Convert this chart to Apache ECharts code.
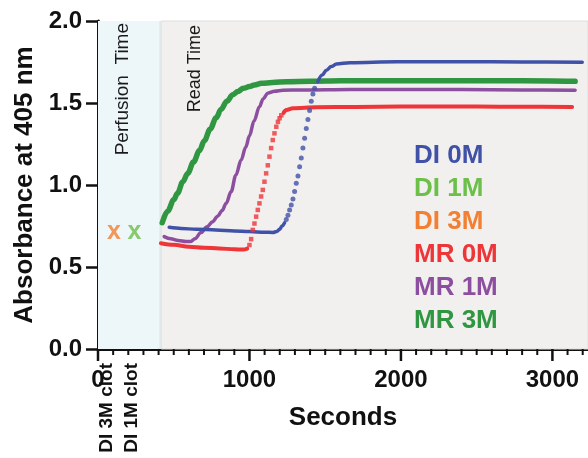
<!DOCTYPE html>
<html><head><meta charset="utf-8">
<script src="https://cdn.jsdelivr.net/npm/echarts@6/dist/echarts.min.js"></script>
<style>html,body{margin:0;padding:0;background:#fff}#c{width:588px;height:458px}</style>
</head><body><div id="c"></div>
<script>
// ---- data ----
const legendNames = ['DI 0M', 'DI 1M', 'DI 3M', 'MR 0M', 'MR 1M', 'MR 3M'];
const legendColors = ['#4051a8', '#6cbf48', '#f37f32', '#ee3538', '#8c4f9f', '#2f9641'];

// DI 0M (blue)
const di0Time = [470, 550, 650, 779, 900, 1000, 1100, 1155, 1180, 1199, 1215, 1232,
  1243, 1254, 1265, 1276, 1287, 1298, 1309, 1320, 1331, 1342, 1353, 1364, 1375, 1386, 1397, 1408, 1419, 1430,
  1452, 1480, 1508, 1540, 1574, 1662, 1971, 2400, 2800, 3197];
const di0Abs = [0.742, 0.735, 0.730, 0.726, 0.720, 0.716, 0.712, 0.711, 0.716, 0.730, 0.750, 0.770,
  0.790, 0.815, 0.848, 0.878, 0.915, 0.960, 1.010, 1.055, 1.112, 1.165, 1.225, 1.285, 1.345, 1.400, 1.455, 1.510, 1.555, 1.590,
  1.630, 1.670, 1.700, 1.722, 1.738, 1.746, 1.752, 1.752, 1.750, 1.748];
const di0DotRange = [1240, 1440];

// MR 0M (red)
const mr0Time = [415, 500, 600, 700, 800, 900, 960, 985,
  1000, 1011, 1022, 1033, 1044, 1055, 1066, 1077, 1088, 1099, 1110, 1121, 1132, 1143, 1154, 1165, 1177, 1188, 1199, 1210,
  1225, 1243, 1287, 1442, 1700, 2000, 2500, 2800, 3130];
const mr0Abs = [0.645, 0.635, 0.624, 0.618, 0.613, 0.608, 0.606, 0.612,
  0.634, 0.670, 0.726, 0.765, 0.807, 0.848, 0.888, 0.930, 0.970, 1.020, 1.071, 1.120, 1.173, 1.225, 1.274, 1.315, 1.355, 1.385, 1.407, 1.425,
  1.440, 1.457, 1.468, 1.474, 1.476, 1.478, 1.478, 1.477, 1.476];
const mr0DotRange = [990, 1220];

// MR 1M (purple)
const mr1Time = [437, 480, 530, 580, 610, 640, 680, 720, 757, 790, 820, 846, 879, 910, 945, 975,
  1000, 1030, 1066, 1090, 1121, 1166, 1221, 1350, 1662, 2000, 2400, 2800, 3150];
const mr1Abs = [0.685, 0.672, 0.662, 0.656, 0.655, 0.672, 0.710, 0.745, 0.776, 0.810, 0.845, 0.888, 0.960, 1.060, 1.152, 1.230,
  1.300, 1.390, 1.477, 1.525, 1.560, 1.572, 1.578, 1.580, 1.583, 1.583, 1.582, 1.580, 1.578];

// MR 3M (dark green)
const mr3Time = [424, 460, 500, 525, 560, 592, 630, 670, 702, 740, 780, 812, 850, 890, 923, 960,
  1000, 1033, 1080, 1152, 1250, 1400, 1600, 1900, 2200, 2500, 2800, 3150];
const mr3Abs = [0.770, 0.840, 0.910, 0.950, 1.020, 1.070, 1.140, 1.210, 1.270, 1.340, 1.410, 1.460, 1.510, 1.550, 1.570, 1.590,
  1.600, 1.610, 1.620, 1.625, 1.630, 1.632, 1.635, 1.635, 1.635, 1.635, 1.635, 1.632];

// clot markers (DI 3M, DI 1M)
const clotNames = ['DI 3M', 'DI 1M'];
const clotTime = [105, 240];
const clotAbs = [0.713, 0.713];
const clotLabelTime = [60, 225];
const clotLabels = ['DI 3M clot', 'DI 1M clot'];

const xMax = 3235;
const xMajorStep = 1000;
const xMinorStep = 100;
const perfusionRange = [0, 417];
const readRange = [417, 3235];

// ---- build ----
const FONT = '"Liberation Sans", Arial, Helvetica, sans-serif';
function colorOf(name) { return legendColors[legendNames.indexOf(name)]; }

function split(times, vals, range) {
  const before = [], dots = [], after = [];
  times.forEach((t, i) => {
    const p = [t, vals[i]];
    if (range && t > range[0] && t < range[1]) dots.push(p);
    else if (range && t >= range[1]) after.push(p);
    else before.push(p);
  });
  let line = before;
  if (after.length) line = before.concat([[ (range[0] + range[1]) / 2, '-' ]], after);
  return { line, dots };
}

function curve(name, times, vals, range, width, dotSymbol, dotSize) {
  const parts = split(times, vals, range);
  const out = [{
    name, type: 'line', data: parts.line, smooth: 0.35, smoothMonotone: 'x',
    showSymbol: false, connectNulls: false,
    lineStyle: { color: colorOf(name), width: width, cap: 'round', join: 'round' },
    itemStyle: { color: colorOf(name) }, z: 3
  }];
  if (parts.dots.length) {
    out.push({
      name, type: 'scatter', data: parts.dots, symbol: dotSymbol, symbolSize: dotSize,
      itemStyle: { color: colorOf(name) }, z: 3
    });
  }
  return out;
}

const axisBlack = '#111';
const series = [];
series.push({
  type: 'scatter', data: [], clip: false, silent: true, z: 1,
  markArea: {
    silent: true,
    data: [
      [{ xAxis: perfusionRange[0], yAxis: 0, itemStyle: { color: '#edf6f8' } }, { xAxis: perfusionRange[1] - 15, yAxis: 2.024 }],
      [{ xAxis: perfusionRange[1] - 15, yAxis: 0, itemStyle: { color: '#e1eff1' } }, { xAxis: perfusionRange[1], yAxis: 2.024 }],
      [{ xAxis: readRange[0], yAxis: 0, itemStyle: { color: '#f2f0ee', borderColor: '#e0dedc', borderWidth: 1 } }, { xAxis: readRange[1], yAxis: 2.04 }]
    ]
  }
});
series.push(...curve('MR 0M', mr0Time, mr0Abs, mr0DotRange, 4, 'rect', 4.5));
series.push(...curve('MR 1M', mr1Time, mr1Abs, null, 3.5, 'circle', 4));
series.push(...curve('MR 3M', mr3Time, mr3Abs, null, 5.5, 'circle', 5));
series.push(...curve('DI 0M', di0Time, di0Abs, di0DotRange, 3.5, 'circle', 5));
clotNames.forEach((n, i) => {
  series.push({
    name: n, type: 'scatter', data: [[clotTime[i], clotAbs[i]]],
    symbol: 'circle', symbolSize: 2, itemStyle: { color: 'rgba(0,0,0,0)' }, z: 4,
    label: { show: true, position: 'inside', formatter: 'x', color: colorOf(n), fontSize: 25, fontWeight: 'bold',
      fontFamily: FONT, textBorderWidth: 0 }
  });
});

const option = {
  backgroundColor: '#fff',
  animation: false,
  textStyle: { fontFamily: FONT },
  grid: { left: 98, right: 0, top: 21, bottom: 109 },
  legend: {
    orient: 'vertical', left: 409, top: 143, padding: 0,
    itemWidth: 0, itemHeight: 0, itemGap: 7, icon: 'rect', selectedMode: false,
    data: legendNames.map((n, i) => ({ name: n, itemStyle: { opacity: 0 }, textStyle: { color: legendColors[i] } })),
    textStyle: { fontSize: 26, fontWeight: 'bold', fontFamily: FONT, lineHeight: 26, padding: 0 }
  },
  xAxis: {
    type: 'value', min: 0, max: xMax, interval: xMajorStep,
    name: 'Seconds', nameLocation: 'middle', nameGap: 56,
    nameTextStyle: { fontSize: 26, fontWeight: 'bold', color: axisBlack, fontFamily: FONT },
    axisLine: { show: true, lineStyle: { color: axisBlack, width: 3 } },
    axisTick: { show: false },
    splitLine: { show: false },
    axisLabel: { show: true, showMaxLabel: false, fontSize: 24, fontWeight: 'bold', color: axisBlack, margin: 19,
      fontFamily: FONT, formatter: v => (v % xMajorStep === 0 ? String(v) : '') }
  },
  yAxis: {
    type: 'value', min: 0, max: 2, interval: 0.5,
    name: 'Absorbance at 405 nm', nameLocation: 'middle', nameGap: 60,
    nameTextStyle: { fontSize: 26, fontWeight: 'bold', color: axisBlack, fontFamily: FONT },
    axisLine: { show: true, lineStyle: { color: axisBlack, width: 3 } },
    axisTick: { show: true, length: 12, lineStyle: { color: axisBlack, width: 2.5 } },
    splitLine: { show: false },
    axisLabel: { fontSize: 24, fontWeight: 'bold', color: axisBlack, margin: 16, fontFamily: FONT, formatter: v => v.toFixed(1) }
  },
  series
};
const chart = echarts.init(document.getElementById('c'));
chart.setOption(option);

// annotation texts and x-axis ticks placed through the chart's own scales
const xPx = v => chart.convertToPixel({ xAxisIndex: 0 }, v);
const yTop = chart.convertToPixel({ yAxisIndex: 0 }, 2.0);
const yZero = chart.convertToPixel({ yAxisIndex: 0 }, 0);
const graphics = [
  { type: 'text', x: xPx(165), y: yTop + 2, rotation: Math.PI / 2, z: 10,
    style: { text: 'Perfusion  Time', font: '19px ' + FONT, fill: '#1a1a1a', textAlign: 'right', textVerticalAlign: 'middle' } },
  { type: 'text', x: xPx(640), y: yTop + 4, rotation: Math.PI / 2, z: 10,
    style: { text: 'Read Time', font: '18px ' + FONT, fill: '#1a1a1a', textAlign: 'right', textVerticalAlign: 'middle' } }
];
clotLabels.forEach((txt, i) => {
  graphics.push({ type: 'text', x: xPx(clotLabelTime[i]), y: yZero + 14, rotation: Math.PI / 2, z: 10,
    style: { text: txt, font: 'bold 19px ' + FONT, fill: axisBlack, textAlign: 'right', textVerticalAlign: 'middle' } });
});
for (let t = 0; t <= xMax; t += xMinorStep) {
  const major = t % xMajorStep === 0;
  const px = xPx(t);
  graphics.push({ type: 'line', z: 100, silent: true,
    shape: { x1: px, y1: yZero, x2: px, y2: yZero + (major ? 12 : 6) },
    style: { stroke: axisBlack, lineWidth: major ? 2.5 : 2 } });
}
chart.setOption({ graphic: graphics });
</script>
</body></html>
